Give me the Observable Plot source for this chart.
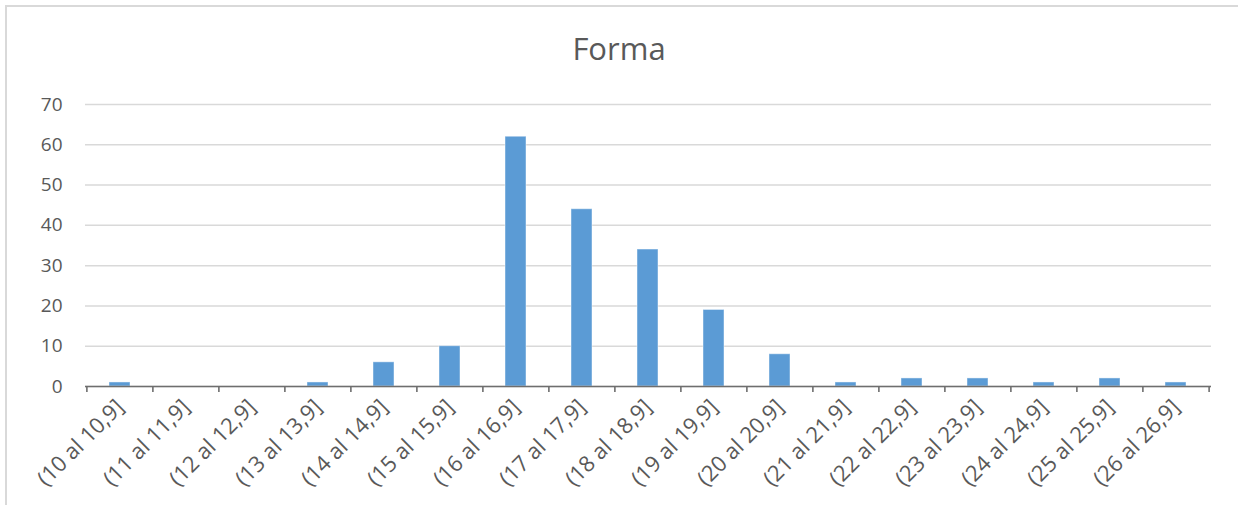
<!DOCTYPE html>
<html>
<head>
<meta charset="utf-8">
<script src="https://cdn.jsdelivr.net/npm/d3@7"></script>
<script src="https://cdn.jsdelivr.net/npm/@observablehq/plot@0.6"></script>
<style>
  html, body { margin: 0; padding: 0; background: #fff; overflow: hidden; }
  #frame { position: absolute; left: 5px; top: 5px; width: 1400px; height: 700px; z-index: 2;
           border-top: 2px solid #d9d9d9; border-left: 2px solid #d9d9d9; pointer-events: none; }
  #wrap { position: absolute; left: 0; top: 0; width: 1238px; z-index: 1; }
  #title { height: 80px; box-sizing: border-box; padding-top: 28px; line-height: 40px;
           text-align: center; font-family: "Open Sans", sans-serif; font-size: 31px; color: #595959; }
</style>
</head>
<body>
<div id="wrap">
  <div id="title">Forma</div>
  <div id="chart"></div>
</div>
<div id="frame"></div>
<script>
const categories = ["(10 al 10,9]", "(11 al 11,9]", "(12 al 12,9]", "(13 al 13,9]", "(14 al 14,9]",
  "(15 al 15,9]", "(16 al 16,9]", "(17 al 17,9]", "(18 al 18,9]", "(19 al 19,9]", "(20 al 20,9]",
  "(21 al 21,9]", "(22 al 22,9]", "(23 al 23,9]", "(24 al 24,9]", "(25 al 25,9]", "(26 al 26,9]"];
const values = [1, 0, 0, 1, 6, 10, 62, 44, 34, 19, 8, 1, 2, 2, 1, 2, 1];
const yTicks = [0, 10, 20, 30, 40, 50, 60, 70];

const data = categories.map((c, i) => ({category: c, value: values[i]}));

const width = 1238, height = 425;
const marginLeft = 85, marginRight = 27, marginTop = 24, marginBottom = 119;
const step = (width - marginLeft - marginRight) / categories.length;

const chart = Plot.plot({
  width, height, marginLeft, marginRight, marginTop, marginBottom,
  style: {fontFamily: "'Open Sans', sans-serif", fontSize: "19px", color: "#595959", background: "transparent"},
  x: {domain: categories, paddingInner: 0.68, paddingOuter: 0.34, label: null},
  y: {domain: [0, 70], label: null},
  marks: [
    Plot.gridY(yTicks, {stroke: "#d9d9d9", strokeOpacity: 1, strokeWidth: 1.5}),
    Plot.axisY(yTicks, {tickSize: 0, tickPadding: 23, fontSize: 19, fill: "#595959", label: null}),
    Plot.barY(data, {x: "category", y: "value", fill: "#5B9BD5", stroke: "#ffffff", strokeOpacity: 0.45, strokeWidth: 1}),
    Plot.ruleY([0], {stroke: "#6e6e6e", strokeWidth: 1.6}),
    Plot.ruleX(categories, {x: d => d, y1: 0, y2: 0, dx: -step / 2, insetBottom: -6, stroke: "#6e6e6e", strokeWidth: 1.6}),
    Plot.ruleX([categories[categories.length - 1]], {x: d => d, y1: 0, y2: 0, dx: step / 2, insetBottom: -6, stroke: "#6e6e6e", strokeWidth: 1.6}),
    Plot.axisX({tickSize: 0, tickPadding: 17, tickRotate: -45, fontSize: 22, fill: "#595959", label: null})
  ]
});
document.getElementById("chart").appendChild(chart);
</script>
</body>
</html>
